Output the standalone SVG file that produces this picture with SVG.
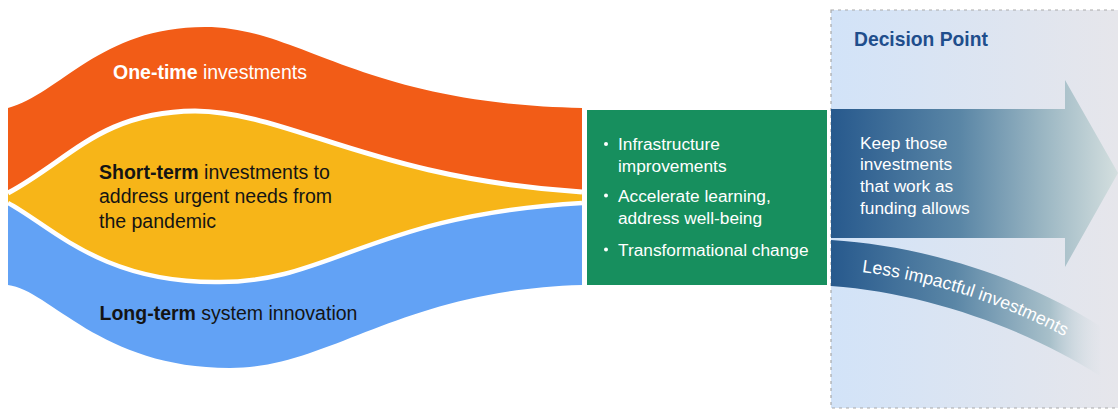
<svg xmlns="http://www.w3.org/2000/svg" width="1118" height="410" viewBox="0 0 1118 410">
  <style>
    text { font-family: "Liberation Sans", Arial, sans-serif; }
    .lbl { font-size: 19.5px; }
    .b { font-weight: bold; }
    .wt { fill: #ffffff; }
    .dk { fill: #141414; }
    .gt { font-size: 17.3px; fill: #ffffff; }
    .sep { fill: none; stroke: #ffffff; }
  </style>
  <defs>
    <linearGradient id="panelGrad" gradientUnits="userSpaceOnUse" x1="831" y1="0" x2="1118" y2="0">
      <stop offset="0" stop-color="#D2E3F8"/>
      <stop offset="1" stop-color="#E6E6EB"/>
    </linearGradient>
    <linearGradient id="arrowGrad" gradientUnits="userSpaceOnUse" x1="831" y1="0" x2="1118" y2="0">
      <stop offset="0" stop-color="#27598D"/>
      <stop offset="0.45" stop-color="#5A86A6"/>
      <stop offset="0.75" stop-color="#9DB8C4"/>
      <stop offset="1" stop-color="#D4DFDF"/>
    </linearGradient>
    <linearGradient id="bandGrad" gradientUnits="userSpaceOnUse" x1="831" y1="0" x2="1105" y2="0">
      <stop offset="0" stop-color="#27598D"/>
      <stop offset="0.45" stop-color="#5A86A6"/>
      <stop offset="0.8" stop-color="#A8C0CA"/>
      <stop offset="1" stop-color="#DCE3E6" stop-opacity="0"/>
    </linearGradient>
    <path id="lessPath" d="M831,269 C930,275.5 1030,312 1100,357"/>
  </defs>

  <rect width="1118" height="410" fill="#ffffff"/>

  <g id="flows">
    <g id="flow-one-time">
      <path d="M8,108 C60,94 100,27 205,27 C300,27 360,104 582,108 L582,192 C370,178 290,112 195,111 C100,112 70,160 8,193 Z" fill="#F25C17"/>
    </g>
    <g id="flow-short-term">
      <path d="M8,193 C70,160 100,112 195,111 C290,112 370,178 582,192 L582,203 C370,215 330,284 215,282 C100,282 50,225 8,203 Z" fill="#F7B518"/>
    </g>
    <g id="flow-long-term">
      <path d="M8,203 C50,225 100,282 215,282 C330,284 370,215 582,203 L582,285 C400,290 330,368 230,368 C100,368 50,290 8,285 Z" fill="#62A2F5"/>
    </g>
  </g>

  <g id="connectors">
    <path class="sep" stroke-width="5" d="M8,193 C70,160 100,112 195,111 C290,112 370,178 582,192"/>
    <path class="sep" stroke-width="4.5" d="M8,203 C50,225 100,282 215,282 C330,284 370,215 582,203"/>
  </g>

  <g id="labels-flows">
    <text class="lbl wt" x="113" y="79"><tspan class="b">One-time</tspan> investments</text>
    <text class="lbl dk" x="99" y="178.5"><tspan class="b">Short-term</tspan> investments to</text>
    <text class="lbl dk" x="99" y="203">address urgent needs from</text>
    <text class="lbl dk" x="99" y="228">the pandemic</text>
    <text class="lbl dk" x="99.5" y="320"><tspan class="b">Long-term</tspan> system innovation</text>
  </g>

  <g id="outcomes">
    <rect x="587" y="110" width="240" height="175" fill="#178F5E"/>
    <circle cx="606" cy="144" r="2" fill="#ffffff"/>
    <text class="gt" x="618" y="150">Infrastructure</text>
    <text class="gt" x="618" y="171.5">improvements</text>
    <circle cx="606" cy="195.5" r="2" fill="#ffffff"/>
    <text class="gt" x="618" y="201.5">Accelerate learning,</text>
    <text class="gt" x="618" y="223.5">address well-being</text>
    <circle cx="606" cy="249.5" r="2" fill="#ffffff"/>
    <text class="gt" x="618" y="255.5">Transformational change</text>
  </g>

  <g id="decision-point">
    <rect x="831" y="10" width="300" height="398" fill="url(#panelGrad)" stroke="#A9A9A9" stroke-width="1.2" stroke-dasharray="3 4"/>
    <text x="854" y="45.5" font-size="19.3" font-weight="bold" fill="#1F4E8C">Decision Point</text>
  </g>

  <g id="keep-arrow">
    <path d="M831,109 H1065 V80 L1118,173 L1065,267 V238 H831 Z" fill="url(#arrowGrad)"/>
    <text class="gt" x="860" y="148.5">Keep those</text>
    <text class="gt" x="860" y="170">investments</text>
    <text class="gt" x="860" y="192">that work as</text>
    <text class="gt" x="860" y="213.5">funding allows</text>
  </g>

  <g id="less-impactful">
    <path d="M831,240 C930,246 1030,281 1100,326 L1100,376 C1030,331 930,293 831,286 Z" fill="url(#bandGrad)"/>
    <text font-size="17.8" fill="#ffffff"><textPath href="#lessPath" startOffset="31">Less impactful investments</textPath></text>
  </g>
</svg>
